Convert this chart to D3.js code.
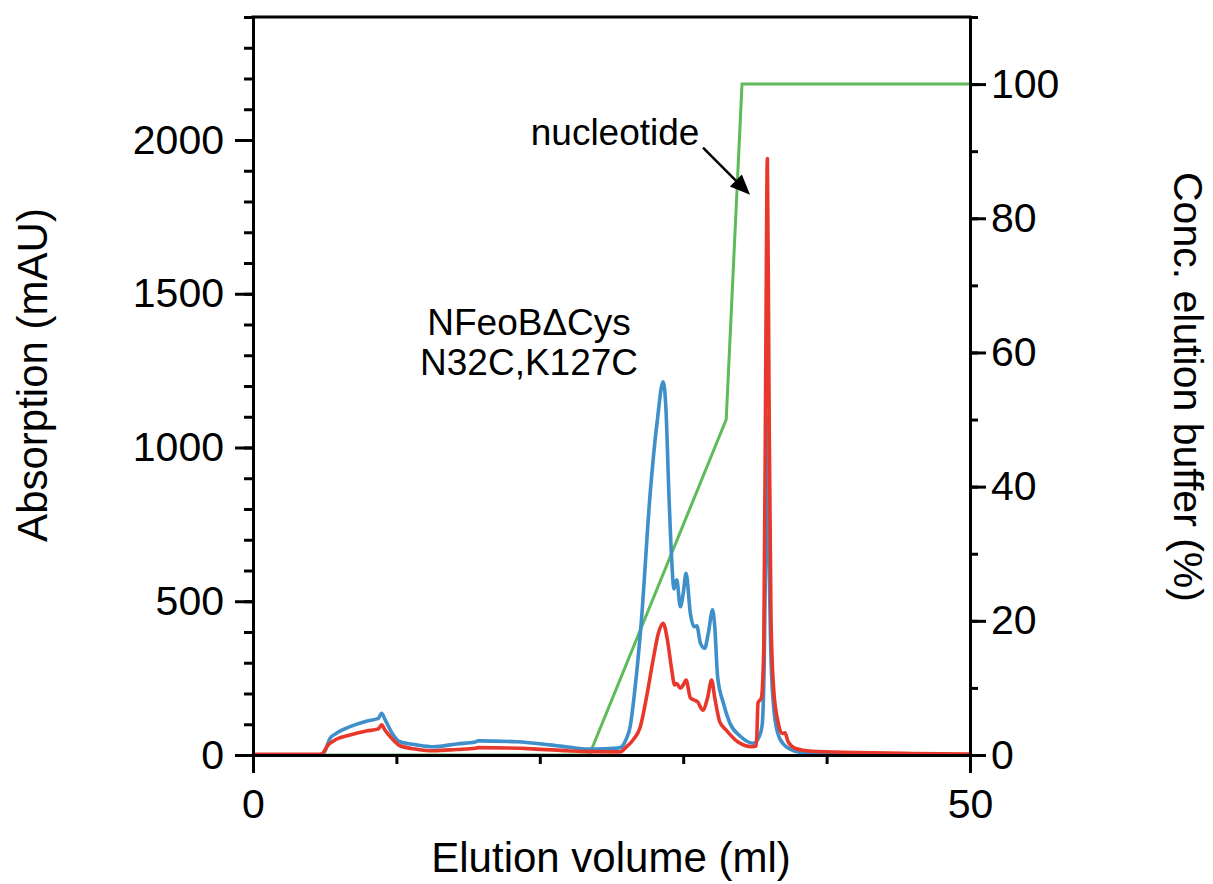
<!DOCTYPE html>
<html lang="en">
<head>
<meta charset="UTF-8">
<title>Elution profile</title>
<script src="https://d3js.org/d3.v7.min.js"></script>
<style>
  body { margin: 0; background: #ffffff; }
  text { font-family: "Liberation Sans", Arial, Helvetica, sans-serif; fill: #000; }
</style>
</head>
<body>
<div id="chart"></div>
<script>

// blue trace (absorption, mAU) vs elution volume (ml)
var blueVol = [0, 4.6, 5.0, 5.37, 5.8, 6.76, 7.9, 8.74, 8.97, 9.2, 9.78, 10.25, 11.4, 12.6, 14.2, 15.5, 15.7, 18.4, 20.7, 22.1, 23.3, 24.5, 25.6,
  26.0, 26.3, 26.6, 27.05, 27.7, 28.2, 28.6, 28.8, 29.0, 29.2, 29.35, 29.55, 29.8, 30.0, 30.2, 30.5, 30.75, 30.95, 31.2, 31.5, 31.75, 32.05,
  32.2, 32.4, 32.8, 33.25, 34.0, 34.9, 35.3, 35.5, 35.65, 35.78, 35.87, 35.96, 36.1, 36.3, 36.6, 37.0, 37.5, 38.5, 40, 45, 50];
var blueAbs = [0, 0, 12, 54, 70, 92, 110, 119, 136, 116, 65, 43, 33, 27, 36, 42, 46, 43, 33, 25, 19, 20, 24,
  49, 92, 200, 417, 852, 1090, 1214, 1122, 852, 634, 540, 570, 482, 525, 591, 460, 417, 420, 364, 347, 396, 472,
  417, 255, 169, 104, 60, 38, 60, 95, 300, 800, 1100, 700, 350, 160, 70, 35, 18, 6, 3, 1, 0];

// red trace
var redVol = [0, 4.75, 5.25, 5.84, 6.76, 7.9, 8.74, 8.97, 9.2, 9.78, 10.25, 11.4, 12.6, 14.2, 15.5, 15.7, 19.5, 21.9, 23.3, 25.6,
  26.05, 26.5, 27.0, 27.45, 27.9, 28.27, 28.6, 28.9, 29.2, 29.4, 29.55, 29.8, 30.0, 30.2, 30.5, 30.75, 31.0, 31.36, 31.7, 31.98,
  32.2, 32.55, 33.0, 33.8, 34.8, 35.1, 35.22, 35.45, 35.62, 35.76, 35.87, 35.98, 36.12, 36.3, 36.6, 36.9, 37.1, 37.3, 37.8, 39, 42, 46, 50];
var redAbs = [2, 2, 33, 52, 65, 78, 85, 98, 81, 49, 30, 19, 14, 18, 22, 24, 20, 14, 11, 10,
  27, 49, 90, 190, 309, 396, 428, 374, 277, 228, 232, 217, 228, 244, 186, 179, 173, 146, 186, 244,
  186, 108, 81, 43, 27, 30, 170, 185, 350, 1300, 1940, 1200, 450, 220, 110, 70, 72, 45, 22, 12, 8, 5, 3];

// gradient (conc. elution buffer, %)
var gradVol = [0, 23.45, 33.0, 34.1, 50];
var gradPct = [0, 0, 50, 100, 100];

var leftTicks = [0, 500, 1000, 1500, 2000];
var rightTicks = [0, 20, 40, 60, 80, 100];
var bottomTicks = [0, 50];

var W = 1213, H = 884;
var x = d3.scaleLinear().domain([0, 50]).range([253, 970]);
var y = d3.scaleLinear().domain([0, 2400]).range([755, 17]);
var y2 = d3.scaleLinear().domain([0, 110]).range([755, 17]);
var fmt = d3.format("d");

var svg = d3.select("#chart").append("svg")
  .attr("width", W).attr("height", H);
svg.append("rect").attr("width", W).attr("height", H).attr("fill", "#fff");

// traces
var absLine = d3.line().curve(d3.curveMonotoneX)
  .x(function(d) { return x(d[0]); })
  .y(function(d) { return y(d[1]); });
var gradLine = d3.line()
  .x(function(d) { return x(d[0]); })
  .y(function(d) { return y2(d[1]); });

svg.append("path")
  .datum(d3.zip(gradVol, gradPct))
  .attr("d", gradLine)
  .attr("fill", "none").attr("stroke", "#5dbb59").attr("stroke-width", 3);

svg.append("path")
  .datum(d3.zip(blueVol, blueAbs))
  .attr("d", absLine)
  .attr("fill", "none").attr("stroke", "#3f8fca").attr("stroke-width", 3.6)
  .attr("stroke-linejoin", "round");

svg.append("path")
  .datum(d3.zip(redVol, redAbs))
  .attr("d", absLine)
  .attr("fill", "none").attr("stroke", "#e8382b").attr("stroke-width", 3.6)
  .attr("stroke-linejoin", "round");

// axes
function styleAxis(g, width) {
  g.selectAll("path.domain").attr("stroke", "#000").attr("stroke-width", width);
  g.selectAll(".tick line").attr("stroke", "#000").attr("stroke-width", 3);
  g.selectAll(".tick text").style("font-size", "41px").attr("fill", "#000");
}

// left
var gl = svg.append("g").attr("transform", "translate(253,0)")
  .call(d3.axisLeft(y).tickValues(d3.range(0, 2401, 100)).tickSize(9).tickFormat(""));
styleAxis(gl, 3);
var gl2 = svg.append("g").attr("transform", "translate(253,0)")
  .call(d3.axisLeft(y).tickValues(leftTicks).tickSize(18).tickPadding(11).tickFormat(fmt));
gl2.select("path.domain").remove();
styleAxis(gl2, 3);

// right
var gr = svg.append("g").attr("transform", "translate(970,0)")
  .call(d3.axisRight(y2).tickValues(d3.range(0, 101, 10)).tickSize(8).tickFormat(""));
styleAxis(gr, 3);
var gr2 = svg.append("g").attr("transform", "translate(970,0)")
  .call(d3.axisRight(y2).tickValues(rightTicks).tickSize(16).tickPadding(5).tickFormat(fmt));
gr2.select("path.domain").remove();
styleAxis(gr2, 3);

// bottom
var gb = svg.append("g").attr("transform", "translate(0,755)")
  .call(d3.axisBottom(x).tickValues([10, 20, 30, 40]).tickSize(9).tickFormat(""));
styleAxis(gb, 3);
var gb2 = svg.append("g").attr("transform", "translate(0,755)")
  .call(d3.axisBottom(x).tickValues(bottomTicks).tickSize(18).tickPadding(16).tickFormat(fmt));
gb2.select("path.domain").remove();
styleAxis(gb2, 3);

// top frame
svg.append("line")
  .attr("x1", x(0) - 1.5).attr("x2", x(50) + 1.5)
  .attr("y1", y(2400)).attr("y2", y(2400))
  .attr("stroke", "#000").attr("stroke-width", 3);

// axis titles
svg.append("text")
  .attr("transform", "translate(47," + 375 + ") rotate(-90)")
  .attr("text-anchor", "middle").style("font-size", "42px")
  .text("Absorption (mAU)");
svg.append("text")
  .attr("transform", "translate(1174," + 387 + ") rotate(90)")
  .attr("text-anchor", "middle").style("font-size", "41px")
  .text("Conc. elution buffer (%)");
svg.append("text")
  .attr("x", 611).attr("y", 872)
  .attr("text-anchor", "middle").style("font-size", "42px")
  .text("Elution volume (ml)");

// annotations
svg.append("text")
  .attr("x", x(19.25)).attr("y", y(1366))
  .attr("text-anchor", "middle").style("font-size", "37px")
  .text("NFeoBΔCys");
svg.append("text")
  .attr("x", x(19.25)).attr("y", y(1236))
  .attr("text-anchor", "middle").style("font-size", "37px")
  .text("N32C,K127C");
svg.append("text")
  .attr("x", x(25.25)).attr("y", y(1985))
  .attr("text-anchor", "middle").style("font-size", "37px")
  .text("nucleotide");

// arrow to nucleotide peak
var ax0 = x(31.38), ay0 = y(1975), ax1 = x(34.66), ay1 = y(1822);
var ang = Math.atan2(ay1 - ay0, ax1 - ax0);
var hl = 20, hw = 8.5;
var bx = ax1 - hl * Math.cos(ang), by = ay1 - hl * Math.sin(ang);
svg.append("line")
  .attr("x1", ax0).attr("y1", ay0).attr("x2", bx).attr("y2", by)
  .attr("stroke", "#000").attr("stroke-width", 2.5);
svg.append("path")
  .attr("d", "M" + ax1 + "," + ay1 +
    "L" + (bx + hw * Math.sin(ang)) + "," + (by - hw * Math.cos(ang)) +
    "L" + (bx - hw * Math.sin(ang)) + "," + (by + hw * Math.cos(ang)) + "Z")
  .attr("fill", "#000");

</script>
</body>
</html>
